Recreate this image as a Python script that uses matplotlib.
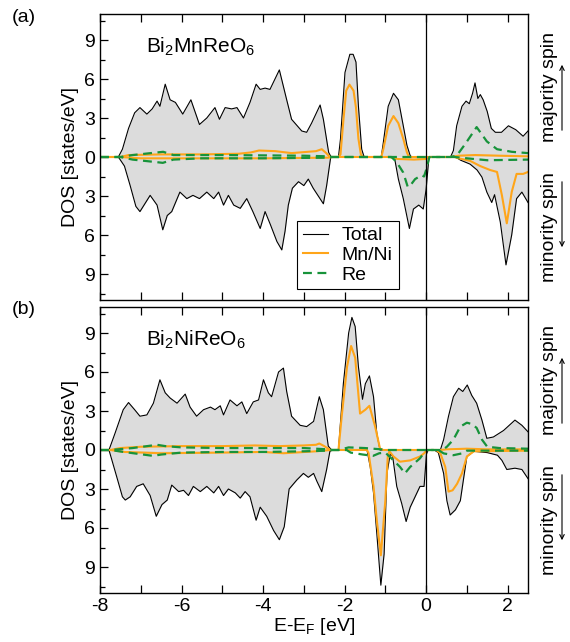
import numpy as np
import matplotlib
matplotlib.use("Agg")
import matplotlib.pyplot as plt
from matplotlib.ticker import MultipleLocator, FuncFormatter

plt.rcParams['font.family'] = ['Liberation Sans', 'DejaVu Sans']
plt.rcParams['mathtext.fontset'] = 'custom'
plt.rcParams['mathtext.rm'] = 'Liberation Sans'
plt.rcParams['mathtext.it'] = 'Liberation Sans:italic'
plt.rcParams['mathtext.default'] = 'regular'
plt.rcParams['axes.unicode_minus'] = False

# (E - E_F [eV], DOS [states/eV]); minority spin stored as magnitudes
a_total_up = [(-8.0, 0), (-7.55, 0), (-7.45, 0.6), (-7.3, 2.2), (-7.15, 3.4), (-7.02, 3.8), (-6.85, 3.3),
              (-6.72, 3.7), (-6.6, 4.3), (-6.53, 3.9), (-6.40, 5.6), (-6.28, 4.4), (-6.15, 4.2), (-5.97, 3.3),
              (-5.77, 4.4), (-5.56, 2.5), (-5.38, 3.0), (-5.18, 3.8), (-5.07, 2.9), (-4.93, 3.8), (-4.77, 3.7),
              (-4.64, 3.8), (-4.48, 3.0), (-4.32, 4.2), (-4.17, 5.6), (-4.07, 5.2), (-3.95, 5.3), (-3.83, 5.2),
              (-3.6, 6.7), (-3.42, 4.4), (-3.3, 2.9), (-3.05, 2.0), (-2.93, 1.9), (-2.81, 2.6), (-2.6, 4.0),
              (-2.52, 2.9), (-2.39, 0.35), (-2.33, 0), (-2.15, 0), (-2.1, 1.4), (-1.99, 6.5), (-1.87, 7.9),
              (-1.79, 7.9), (-1.72, 7.3), (-1.66, 3.9), (-1.58, 0.6), (-1.52, 0), (-1.1, 0), (-1.05, 1.1),
              (-0.93, 3.9), (-0.80, 4.9), (-0.68, 4.4), (-0.56, 2.4), (-0.47, 0.9), (-0.39, 0.1), (-0.35, 0),
              (0.6, 0), (0.67, 0.5), (0.75, 2.4), (0.88, 3.9), (0.98, 4.3), (1.06, 4.1), (1.14, 4.9), (1.2, 5.7),
              (1.27, 4.5), (1.33, 4.8), (1.4, 4.4), (1.5, 3.5), (1.6, 2.2), (1.7, 1.9), (1.85, 1.9), (2.02, 2.4),
              (2.2, 2.1), (2.38, 1.6), (2.5, 2.0)]
a_total_dn = [(-8.0, 0), (-7.55, 0), (-7.4, 0.7), (-7.26, 2.2), (-7.12, 3.8), (-7.02, 4.2), (-6.9, 3.6),
              (-6.77, 2.95), (-6.6, 3.7), (-6.46, 5.6), (-6.35, 4.5), (-6.24, 4.2), (-6.04, 2.7), (-5.87, 3.2),
              (-5.72, 2.95), (-5.56, 3.2), (-5.38, 2.7), (-5.21, 3.2), (-5.09, 2.7), (-4.97, 3.7), (-4.85, 2.95),
              (-4.72, 3.7), (-4.56, 3.95), (-4.4, 3.2), (-4.25, 4.2), (-4.07, 5.5), (-3.95, 4.2), (-3.82, 5.2),
              (-3.66, 6.5), (-3.54, 7.15), (-3.46, 5.7), (-3.38, 3.7), (-3.28, 2.4), (-3.13, 1.9), (-3.0, 2.2),
              (-2.89, 1.7), (-2.77, 2.4), (-2.52, 3.6), (-2.44, 2.2), (-2.34, 0), (-0.82, 0), (-0.77, 0.15),
              (-0.68, 1.7), (-0.56, 3.2), (-0.41, 5.5), (-0.31, 4.0), (-0.18, 3.7), (-0.07, 4.0), (0.0, 2.5),
              (0.07, 0), (0.72, 0), (0.85, 0.25), (1.08, 0.55), (1.25, 1.0), (1.37, 1.55), (1.49, 2.7),
              (1.61, 3.5), (1.68, 2.9), (1.82, 5.0), (1.96, 8.3), (2.10, 6.0), (2.22, 3.2), (2.35, 2.7), (2.5, 3.5)]
a_metal_up = [(-8.0, 0), (-7.5, 0), (-7.3, 0.15), (-6.5, 0.2), (-5.5, 0.2), (-4.6, 0.25), (-4.3, 0.35),
              (-4.1, 0.5), (-3.7, 0.45), (-3.3, 0.3), (-2.9, 0.4), (-2.7, 0.45), (-2.56, 0.6), (-2.45, 0.3),
              (-2.36, 0), (-2.15, 0), (-2.1, 0.2), (-2.03, 2.8), (-1.96, 5.1), (-1.88, 5.57), (-1.78, 5.1),
              (-1.72, 3.8), (-1.66, 1.4), (-1.6, 0.2), (-1.55, 0), (-1.1, 0), (-1.05, 0.6), (-0.93, 2.4),
              (-0.80, 3.15), (-0.68, 2.6), (-0.56, 1.4), (-0.47, 0.35), (-0.42, 0), (0.6, 0), (0.8, 0.1),
              (1.2, 0.15), (1.8, 0.1), (2.5, 0.05)]
a_metal_dn = [(-8.0, 0), (-7.5, 0), (-7.0, 0.1), (-4.0, 0.1), (-2.4, 0.05), (-2.3, 0), (-0.9, 0), (-0.7, 0.15),
              (-0.3, 0.2), (0.0, 0.15), (0.08, 0), (0.7, 0), (0.8, 0.1), (1.08, 0.3), (1.33, 0.7), (1.57, 1.0),
              (1.74, 1.15), (1.86, 2.95), (1.98, 5.1), (2.10, 2.7), (2.22, 1.3), (2.38, 1.3), (2.5, 1.15)]
a_re_up = [(-8.0, 0), (-7.5, 0), (-7.2, 0.15), (-6.6, 0.35), (-6.45, 0.4), (-6.2, 0.15), (-5.0, 0.15),
           (-3.0, 0.1), (-2.4, 0.05), (-2.3, 0), (0.6, 0), (0.75, 0.1), (0.96, 1.0), (1.24, 2.3), (1.49, 1.2),
           (1.74, 0.6), (2.1, 0.4), (2.5, 0.3)]
a_re_dn = [(-8.0, 0), (-7.5, 0), (-7.2, 0.2), (-6.6, 0.4), (-6.46, 0.45), (-6.2, 0.2), (-5.5, 0.1), (-4.0, 0.1),
           (-2.4, 0.05), (-2.3, 0), (-0.85, 0), (-0.72, 0.4), (-0.56, 1.2), (-0.45, 2.3), (-0.39, 2.2),
           (-0.27, 1.7), (-0.11, 1.4), (-0.05, 1.5), (0.02, 0.8), (0.08, 0), (0.7, 0), (1.0, 0.1), (1.5, 0.25),
           (2.5, 0.2)]

b_total_up = [(-8.0, 0), (-7.78, 0), (-7.63, 1.3), (-7.43, 3.1), (-7.3, 3.65), (-7.15, 3.1), (-7.02, 2.6),
              (-6.85, 2.7), (-6.69, 3.6), (-6.53, 5.4), (-6.40, 4.4), (-6.28, 4.0), (-6.11, 3.6), (-5.91, 4.3),
              (-5.79, 3.3), (-5.63, 2.6), (-5.46, 3.1), (-5.29, 3.3), (-5.18, 3.1), (-5.05, 3.4), (-4.97, 2.7),
              (-4.81, 3.85), (-4.64, 3.4), (-4.52, 3.7), (-4.40, 2.8), (-4.24, 3.7), (-4.11, 3.85), (-3.99, 5.4),
              (-3.87, 4.4), (-3.79, 4.1), (-3.62, 6.0), (-3.50, 6.3), (-3.42, 4.5), (-3.30, 2.6), (-3.09, 1.9),
              (-2.93, 1.8), (-2.76, 2.2), (-2.62, 4.1), (-2.52, 3.1), (-2.40, 0.3), (-2.32, 0), (-2.15, 0),
              (-2.03, 5.1), (-1.90, 9.0), (-1.82, 10.2), (-1.74, 9.5), (-1.66, 6.4), (-1.56, 3.9), (-1.49, 5.1),
              (-1.39, 5.7), (-1.29, 4.1), (-1.21, 1.3), (-1.13, 0), (0.35, 0), (0.43, 0.8), (0.55, 2.6),
              (0.67, 4.1), (0.80, 4.75), (0.9, 4.5), (1.01, 5.0), (1.12, 4.2), (1.24, 3.6), (1.37, 2.3),
              (1.49, 0.9), (1.65, 1.0), (1.90, 1.5), (2.18, 2.3), (2.35, 1.9), (2.5, 1.4)]
b_total_dn = [(-8.0, 0), (-7.78, 0), (-7.59, 2.06), (-7.45, 3.6), (-7.38, 3.85), (-7.26, 3.6), (-7.10, 2.8),
              (-6.94, 2.6), (-6.77, 3.5), (-6.62, 5.1), (-6.48, 4.2), (-6.35, 3.85), (-6.24, 2.7), (-6.07, 3.2),
              (-5.95, 3.1), (-5.83, 3.5), (-5.71, 2.8), (-5.54, 3.2), (-5.38, 2.8), (-5.21, 3.3), (-5.09, 2.8),
              (-4.97, 3.5), (-4.85, 3.0), (-4.68, 3.3), (-4.56, 3.7), (-4.44, 3.2), (-4.32, 3.6), (-4.17, 5.4),
              (-4.07, 4.4), (-3.91, 5.1), (-3.74, 6.2), (-3.60, 6.9), (-3.48, 5.9), (-3.36, 3.0), (-3.17, 2.3),
              (-3.01, 1.8), (-2.89, 2.1), (-2.76, 1.8), (-2.68, 2.4), (-2.56, 3.2), (-2.44, 1.5), (-2.36, 0.1),
              (-2.3, 0), (-1.45, 0), (-1.37, 1.3), (-1.29, 3.3), (-1.21, 6.4), (-1.11, 10.4), (-1.03, 8.0),
              (-0.96, 1.8), (-0.88, 0.3), (-0.82, 0.5), (-0.72, 2.8), (-0.60, 4.1), (-0.49, 5.5), (-0.39, 4.4),
              (-0.27, 3.6), (-0.15, 2.8), (-0.05, 2.8), (0.01, 0.3), (0.05, 0), (0.2, 0), (0.3, 0.2),
              (0.43, 1.8), (0.51, 3.9), (0.59, 5.0), (0.72, 4.6), (0.84, 3.9), (1.0, 0.5), (1.17, 0.1),
              (1.5, 0.2), (1.75, 0.4), (1.86, 0.8), (1.98, 1.5), (2.18, 1.4), (2.35, 1.5), (2.5, 2.2)]
b_metal_up = [(-8.0, 0), (-7.75, 0), (-7.5, 0.15), (-7.0, 0.25), (-6.0, 0.3), (-5.0, 0.3), (-4.2, 0.35),
              (-3.6, 0.3), (-3.0, 0.35), (-2.7, 0.4), (-2.62, 0.5), (-2.5, 0.3), (-2.35, 0), (-2.15, 0),
              (-2.07, 2.6), (-1.94, 6.4), (-1.84, 8.0), (-1.74, 7.1), (-1.62, 2.8), (-1.49, 3.1), (-1.39, 3.4),
              (-1.25, 1.8), (-1.13, 0.1), (-1.05, 0), (0.35, 0), (0.5, 0.05), (1.0, 0.1), (1.5, 0.05),
              (2.5, 0.05)]
b_metal_dn = [(-8.0, 0), (-7.75, 0), (-7.4, 0.15), (-6.5, 0.25), (-5.0, 0.2), (-4.0, 0.15), (-3.5, 0.25),
              (-2.7, 0.1), (-2.35, 0), (-1.45, 0), (-1.41, 0.26), (-1.29, 2.8), (-1.21, 5.4), (-1.11, 8.1),
              (-1.00, 3.9), (-0.94, 0.5), (-0.9, 0.1), (-0.8, 0.5), (-0.64, 0.9), (-0.39, 0.8), (-0.15, 0.5),
              (-0.05, 0.26), (0.02, 0), (0.25, 0), (0.35, 0.26), (0.47, 1.3), (0.55, 3.2), (0.65, 3.1),
              (0.76, 2.6), (0.88, 1.8), (1.0, 0.5), (1.17, 0.1), (2.5, 0.05)]
b_re_up = [(-8.0, 0), (-7.75, 0), (-7.2, 0.15), (-6.6, 0.4), (-6.4, 0.3), (-6.0, 0.2), (-5.0, 0.15),
           (-4.0, 0.15), (-3.0, 0.15), (-2.4, 0.05), (-2.3, 0), (-2.15, 0), (-1.9, 0.2), (-1.5, 0.15),
           (-1.1, 0.05), (-1.0, 0), (0.4, 0), (0.51, 0.25), (0.67, 0.8), (0.84, 1.8), (1.0, 2.1), (1.12, 2.0),
           (1.24, 1.7), (1.37, 0.8), (1.5, 0.25), (1.8, 0.15), (2.5, 0.1)]
b_re_dn = [(-8.0, 0), (-7.75, 0), (-7.3, 0.2), (-6.7, 0.45), (-6.5, 0.35), (-6.0, 0.2), (-5.0, 0.15),
           (-4.0, 0.15), (-3.0, 0.1), (-2.4, 0.05), (-2.3, 0), (-1.95, 0), (-1.85, 0.2), (-1.55, 0.35),
           (-1.3, 0.45), (-1.15, 0.25), (-1.0, 0.2), (-0.8, 0.8), (-0.64, 1.3), (-0.52, 1.8), (-0.39, 1.3),
           (-0.15, 0.64), (0.0, 0), (0.3, 0), (0.43, 0.26), (0.67, 0.4), (0.88, 0.26), (1.0, 0.05), (2.5, 0.05)]

panels = [
    ("(a)", r"Bi$_2$MnReO$_6$", a_total_up, a_total_dn, a_metal_up, a_metal_dn, a_re_up, a_re_dn),
    ("(b)", r"Bi$_2$NiReO$_6$", b_total_up, b_total_dn, b_metal_up, b_metal_dn, b_re_up, b_re_dn),
]

ORANGE = '#ffa519'
GREEN = '#17933a'
FS = 14

W, H = 570, 642
fig = plt.figure(figsize=(W / 100, H / 100), dpi=100)
# axes boxes in pixels: left, top, right, bottom
boxes = [(100, 14, 528, 300), (100, 307, 528, 593)]


def xy(pts, sign=1):
    a = np.array(pts, dtype=float)
    return a[:, 0], sign * a[:, 1]


for (tag, name, tu, td, mu, md, ru, rd), (l, t, r, b) in zip(panels, boxes):
    ax = fig.add_axes([l / W, 1 - b / H, (r - l) / W, (b - t) / H])

    xu, yu = xy(tu)
    xd, yd = xy(td, -1)
    ax.fill_between(xu, 0, yu, color='#dcdcdc', lw=0)
    ax.fill_between(xd, 0, yd, color='#dcdcdc', lw=0)
    ax.plot(xu, yu, color='k', lw=0.8, label='Total')
    ax.plot(xd, yd, color='k', lw=0.8)

    ax.plot(*xy(mu), color=ORANGE, lw=1.5, label='Mn/Ni')
    ax.plot(*xy(md, -1), color=ORANGE, lw=1.5)
    ax.plot(*xy(ru), color=GREEN, lw=1.6, ls=(0, (4, 2.5)), label='Re')
    ax.plot(*xy(rd, -1), color=GREEN, lw=1.6, ls=(0, (4, 2.5)))

    ax.axvline(0, color='k', lw=0.9)

    ax.set_xlim(-8, 2.5)
    ax.set_ylim(-11, 11)
    ax.xaxis.set_major_locator(MultipleLocator(2))
    ax.xaxis.set_minor_locator(MultipleLocator(1))
    ax.yaxis.set_major_locator(MultipleLocator(3))
    ax.yaxis.set_minor_locator(MultipleLocator(1.5))
    ax.yaxis.set_major_formatter(FuncFormatter(lambda v, p: f"{abs(v):g}"))
    ax.tick_params(which='both', direction='in', top=True, right=False, labelsize=FS, width=0.9)
    ax.tick_params(axis='x', which='both', length=6)
    ax.tick_params(axis='y', which='major', length=6)
    ax.tick_params(axis='y', which='minor', length=3.5)
    for s in ax.spines.values():
        s.set_linewidth(1.0)
    ax.set_ylabel('DOS [states/eV]', fontsize=FS, labelpad=4)

    ax.text(0.108, 0.865, name, transform=ax.transAxes, fontsize=15)
    fig.text(24 / W, 1 - (t + 3) / H, tag, fontsize=FS, ha='center', va='center')

    if tag == "(a)":
        ax.tick_params(axis='x', labelbottom=False)
        leg = ax.legend(loc='upper left', bbox_to_anchor=(297 / W, 1 - 221 / H),
                        bbox_transform=fig.transFigure, fontsize=FS, frameon=True,
                        fancybox=False, framealpha=1, edgecolor='k', handlelength=1.3,
                        handletextpad=0.7, labelspacing=0.1, borderpad=0.3, borderaxespad=0)
        leg.get_frame().set_linewidth(0.8)
    else:
        ax.set_xlabel(r'E-E$_F$ [eV]', fontsize=FS, labelpad=1)

    # spin labels on the right
    zero = (t + b) / 2
    fig.text(550 / W, 1 - (zero - 70) / H, 'majority spin', rotation=90, fontsize=FS,
             ha='center', va='center')
    fig.text(550 / W, 1 - (zero + 70) / H, 'minority spin', rotation=90, fontsize=FS,
             ha='center', va='center')
    fig.add_artist(matplotlib.patches.FancyArrowPatch(
        (562 / W, 1 - (zero - 24) / H), (562 / W, 1 - (zero - 95) / H),
        transform=fig.transFigure, arrowstyle='->', mutation_scale=8, lw=0.8, color='k'))
    fig.add_artist(matplotlib.patches.FancyArrowPatch(
        (562 / W, 1 - (zero + 22) / H), (562 / W, 1 - (zero + 93) / H),
        transform=fig.transFigure, arrowstyle='->', mutation_scale=8, lw=0.8, color='k'))

fig.savefig('out.png', dpi=100)
